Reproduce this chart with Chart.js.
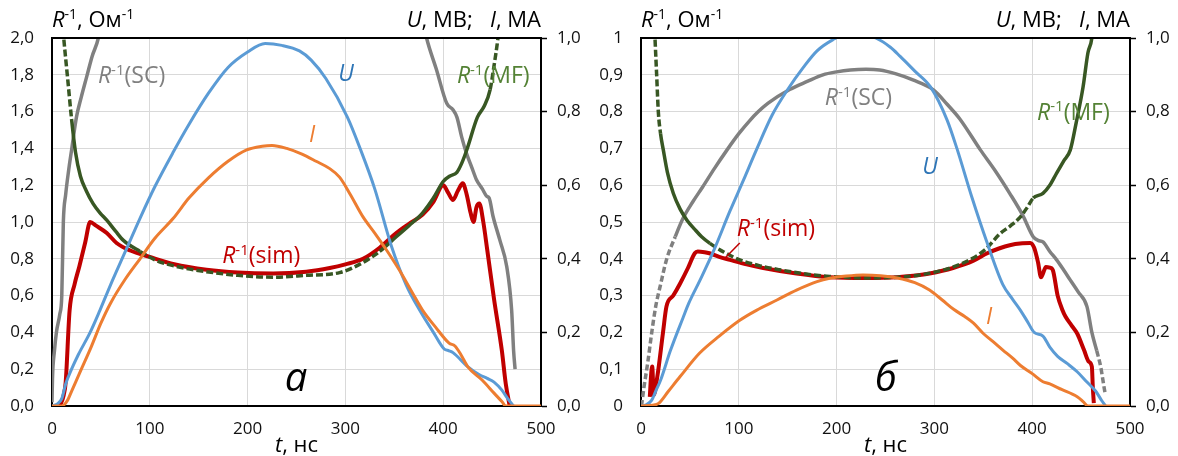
<!DOCTYPE html>
<html>
<head>
<meta charset="utf-8">
<script src="https://cdn.jsdelivr.net/npm/chart.js@4.4.0/dist/chart.umd.min.js"></script>
<style>
  html, body { margin: 0; padding: 0; background: #fff; }
  .row { display: flex; width: 1178px; height: 456px; }
  canvas { display: block; }
</style>
</head>
<body>
<div class="row">
  <canvas id="chartA" width="589" height="456"></canvas>
  <canvas id="chartB" width="589" height="456"></canvas>
</div>
<script>
// ---------- panel а : t (ns) and values ----------
// U, I on right axis (MV, MA); R^-1 series on left axis (Ohm^-1)
const aTimeU = [0, 5, 10, 14, 20, 27, 39, 49, 60, 75, 90, 105, 124, 140, 160, 180, 200, 218, 235, 253, 265, 280, 302, 315, 330, 347, 362, 376, 390, 401, 406, 410, 425, 437, 445, 452, 460, 466, 472];
const aValU = [0, 0.005, 0.02, 0.06, 0.1, 0.14, 0.2, 0.26, 0.33, 0.42, 0.51, 0.595, 0.69, 0.765, 0.85, 0.92, 0.962, 0.985, 0.98, 0.965, 0.94, 0.89, 0.785, 0.7, 0.59, 0.435, 0.33, 0.26, 0.2, 0.155, 0.15, 0.145, 0.107, 0.085, 0.075, 0.065, 0.043, 0.02, 0];

const aTimeI = [0, 10, 16, 20, 30, 40, 50, 60, 75, 90, 105, 124, 140, 160, 180, 199, 215, 225, 240, 255, 270, 284, 294, 305, 318, 330, 342, 355, 368, 379, 392, 406, 412, 418, 425, 440, 452, 460, 464, 500];
const aValI = [0, 0, 0.016, 0.04, 0.1, 0.16, 0.225, 0.28, 0.345, 0.4, 0.455, 0.51, 0.565, 0.62, 0.665, 0.696, 0.706, 0.708, 0.70, 0.685, 0.665, 0.645, 0.622, 0.575, 0.514, 0.47, 0.424, 0.37, 0.31, 0.26, 0.215, 0.171, 0.163, 0.14, 0.107, 0.07, 0.035, 0.012, 0, 0];

const aTimeSim = [8, 12, 14, 18, 23, 28, 34, 39, 45, 56, 66, 80, 100, 125, 158, 190, 226, 260, 284, 300, 318, 335, 352, 365, 379, 390, 400, 405, 410, 415, 420, 424, 428, 431, 434, 437, 441, 445, 452, 460, 464, 468];
const aValSim = [0, 0.06, 0.13, 0.52, 0.66, 0.76, 0.89, 1.0, 0.98, 0.94, 0.886, 0.845, 0.81, 0.77, 0.74, 0.725, 0.72, 0.73, 0.75, 0.77, 0.80, 0.86, 0.94, 0.99, 1.04, 1.11, 1.2, 1.16, 1.12, 1.17, 1.21, 1.15, 1.05, 1.0, 1.08, 1.1, 1.0, 0.85, 0.58, 0.30, 0.12, 0];

const aTimeMF = [10.5, 12, 16, 20, 24, 29, 35, 42, 49, 56, 65, 73, 90, 107, 130, 158, 190, 226, 260, 294, 318, 335, 352, 365, 379, 390, 400, 407, 414, 419, 424, 435, 442, 448, 452, 456, 458];
const aValMF = [2.1, 2.0, 1.78, 1.56, 1.38, 1.25, 1.17, 1.1, 1.05, 1.01, 0.95, 0.9, 0.84, 0.79, 0.755, 0.73, 0.71, 0.70, 0.71, 0.725, 0.78, 0.84, 0.92, 0.98, 1.05, 1.13, 1.22, 1.25, 1.27, 1.32, 1.39, 1.57, 1.63, 1.72, 1.85, 2.0, 2.1];

const aTimeSC1 = [0, 0.5, 2.5, 4.5, 8, 10, 11.6, 14, 17, 20, 25, 30, 35.5, 41, 47.4, 49];
const aValSC1 = [0.02, 0.15, 0.3, 0.4, 0.5, 0.6, 1.0, 1.15, 1.28, 1.39, 1.57, 1.68, 1.79, 1.9, 2.0, 2.05];
const aTimeSC2 = [381, 383, 393, 403.6, 410, 414, 419, 424, 429, 434, 440, 444.5, 447, 451, 458, 465, 470, 472, 473.5];
const aValSC2 = [2.05, 2.0, 1.83, 1.645, 1.61, 1.57, 1.46, 1.37, 1.3, 1.23, 1.18, 1.14, 1.13, 1.03, 0.9, 0.757, 0.52, 0.30, 0.2];

// ---------- panel б ----------
const bTimeU = [0, 5, 11, 15, 20, 30, 43, 49, 60, 74, 91, 105, 118, 134, 150, 166, 180, 196, 210, 225, 240, 255, 265, 280, 296, 313, 323, 338, 354, 370, 380, 388, 395, 402, 411, 418, 426, 436, 446, 456, 465, 471, 475];
const bValU = [0, 0.003, 0.016, 0.04, 0.07, 0.15, 0.24, 0.28, 0.34, 0.42, 0.53, 0.615, 0.696, 0.79, 0.86, 0.92, 0.965, 0.995, 1.01, 1.01, 1.0, 0.975, 0.95, 0.91, 0.867, 0.777, 0.70, 0.57, 0.443, 0.33, 0.29, 0.26, 0.23, 0.2, 0.19, 0.16, 0.135, 0.115, 0.093, 0.065, 0.04, 0.015, 0];

const bTimeI = [0, 12, 18, 28, 40, 60, 80, 101, 118, 139, 159, 180, 193, 210, 227, 245, 262, 280, 295, 308, 320, 331, 340, 350, 360, 370, 380, 388, 400, 411, 418, 430, 446, 452, 457, 500];
const bValI = [0, 0.002, 0.007, 0.04, 0.08, 0.144, 0.19, 0.233, 0.26, 0.288, 0.315, 0.338, 0.347, 0.353, 0.356, 0.354, 0.348, 0.335, 0.315, 0.288, 0.262, 0.243, 0.225, 0.197, 0.175, 0.152, 0.13, 0.11, 0.088, 0.066, 0.06, 0.045, 0.025, 0.012, 0, 0];

const bTimeSim = [9, 10.5, 11.5, 13, 16.7, 22.5, 26, 33, 40, 48, 55, 58, 65, 70, 80, 91, 108, 125, 159, 193, 230, 262, 285, 295, 319, 340, 354, 366, 377, 390, 398, 402, 406, 409, 411, 414, 418, 421, 426, 431, 434, 440, 446, 453, 458, 461, 462, 463];
const bValSim = [0.025, 0.09, 0.107, 0.03, 0.08, 0.2, 0.27, 0.30, 0.333, 0.375, 0.415, 0.42, 0.418, 0.415, 0.405, 0.397, 0.385, 0.375, 0.36, 0.35, 0.348, 0.35, 0.356, 0.36, 0.375, 0.395, 0.415, 0.428, 0.437, 0.442, 0.443, 0.43, 0.39, 0.35, 0.36, 0.378, 0.376, 0.37, 0.3, 0.26, 0.243, 0.22, 0.197, 0.152, 0.12, 0.107, 0.05, 0.008];

const bTimeMF = [13.5, 14.3, 16, 17.7, 20, 22.8, 27, 33, 40, 47, 55, 62, 70.5, 85, 101, 120, 142, 165, 193, 230, 262, 285, 310, 336, 352, 367, 378, 388, 395, 401, 411, 418, 425, 432, 439, 445, 452, 457, 461, 462];
const bValMF = [1.05, 1.0, 0.9, 0.8, 0.74, 0.696, 0.635, 0.578, 0.535, 0.505, 0.48, 0.46, 0.442, 0.418, 0.397, 0.382, 0.37, 0.36, 0.352, 0.348, 0.35, 0.356, 0.37, 0.397, 0.425, 0.468, 0.49, 0.514, 0.54, 0.565, 0.578, 0.6, 0.633, 0.665, 0.696, 0.77, 0.867, 0.96, 1.0, 1.03];

const bTimeSC = [0.5, 3, 7, 11, 15, 20, 26, 35, 43, 53, 63, 75, 88, 100, 111, 120, 130, 152, 170, 186, 200, 214, 230, 244, 260, 278, 299, 313, 326, 347, 362, 377, 390, 401, 406, 411, 418, 425, 432, 439, 447, 456, 461, 466, 470, 474, 475];
const bValSC = [0, 0.05, 0.12, 0.2, 0.27, 0.33, 0.397, 0.46, 0.51, 0.555, 0.595, 0.645, 0.696, 0.74, 0.775, 0.80, 0.823, 0.86, 0.882, 0.90, 0.908, 0.913, 0.915, 0.913, 0.903, 0.886, 0.859, 0.82, 0.78, 0.696, 0.64, 0.578, 0.52, 0.46, 0.45, 0.446, 0.42, 0.397, 0.37, 0.342, 0.31, 0.27, 0.2, 0.15, 0.107, 0.043, 0.03];

// x ticks
const timeMin = 0, timeMax = 500, timeStep = 100;

// ---------- styles ----------
const FONT = '"Open Sans", sans-serif';
const colU = '#5B9BD5', colI = '#ED7D31', colSim = '#C00000', colMF = '#385723', colSC = '#808080';
const dashMF = [7, 3], dashSC = [6, 3];
// where the dashed pieces of a curve are (t ranges)
const aDashMF = [[0, 20], [92, 338], [447, 470]];
const bDashMF = [[0, 19], [68, 398]];
const bDashSC = [[0, 33], [466, 480]];

function pts(ts, vs) {
  return ts.map((t, i) => ({ x: t, y: vs[i] }));
}

function dashBy(ranges, pattern) {
  return ctx => {
    const t = (ctx.p0.parsed.x + ctx.p1.parsed.x) / 2;
    return ranges.some(r => t >= r[0] && t <= r[1]) ? pattern : undefined;
  };
}

function series(data, color, width, axis, dash) {
  const ds = {
    data: data,
    borderColor: color,
    borderWidth: width,
    yAxisID: axis,
    pointRadius: 0,
    fill: false,
    clip: 0,
    cubicInterpolationMode: 'monotone',
    borderJoinStyle: 'round'
  };
  if (dash) ds.segment = { borderDash: dashBy(dash[0], dash[1]) };
  return ds;
}

// rich text: [{s, it, sup}]
function partFont(p, size) {
  const s = p.sup ? Math.round(size * 0.64) : size;
  return (p.it ? 'italic ' : '') + s + 'px ' + FONT;
}
function drawRich(ctx, parts, x, y, size, color, align) {
  let w = 0;
  parts.forEach(p => { ctx.font = partFont(p, size); w += ctx.measureText(p.s).width; });
  let cx = align === 'center' ? x - w / 2 : align === 'right' ? x - w : x;
  ctx.fillStyle = color;
  ctx.textAlign = 'left';
  ctx.textBaseline = 'alphabetic';
  parts.forEach(p => {
    ctx.font = partFont(p, size);
    ctx.fillText(p.s, cx, p.sup ? y - size * 0.36 : y);
    cx += ctx.measureText(p.s).width;
  });
}
const rInv = rest => [{ s: 'R', it: true }, { s: '-1', sup: true }, { s: rest }];

const richLabels = {
  id: 'richLabels',
  afterDatasetsDraw(chart, args, opts) {
    const { ctx, chartArea: a, scales } = chart;
    ctx.save();
    // top edge of the plot frame
    ctx.strokeStyle = '#000';
    ctx.lineWidth = 2;
    ctx.beginPath();
    ctx.moveTo(a.left - 1, a.top);
    ctx.lineTo(a.right + 1, a.top);
    ctx.stroke();

    (opts.items || []).forEach(it => {
      if (it.line) {
        ctx.strokeStyle = it.color;
        ctx.lineWidth = 1.5;
        ctx.beginPath();
        ctx.moveTo(scales.x.getPixelForValue(it.line[0]), scales.yL.getPixelForValue(it.line[1]));
        ctx.lineTo(scales.x.getPixelForValue(it.line[2]), scales.yL.getPixelForValue(it.line[3]));
        ctx.stroke();
        return;
      }
      const px = scales.x.getPixelForValue(it.t);
      const py = scales.yL.getPixelForValue(it.v) + it.size * 0.35;
      drawRich(ctx, it.parts, px, py, it.size, it.color, it.align);
    });

    // axis titles
    drawRich(ctx, [{ s: 'R', it: true }, { s: '-1', sup: true }, { s: ', Ом' }, { s: '-1', sup: true }], a.left, 27, 22, '#000', 'left');
    drawRich(ctx, [{ s: 'U', it: true }, { s: ', МВ;   ' }, { s: 'I', it: true }, { s: ', МА' }], a.right, 27, 22, '#000', 'right');
    drawRich(ctx, [{ s: 't', it: true }, { s: ', нс' }], (a.left + a.right) / 2, 452, 22, '#000', 'center');
    ctx.restore();
  }
};

const commaFmt = v => v.toFixed(1).replace('.', ',');
const tickFont = { family: FONT, size: 17 };
const tickColor = '#111';

function makeChart(id, datasets, leftMax, leftStep, leftFmt, items) {
  return new Chart(document.getElementById(id), {
    type: 'line',
    data: { datasets: datasets },
    options: {
      responsive: false,
      animation: false,
      layout: { padding: { top: 38, left: 0, right: 0, bottom: 0 } },
      plugins: {
        legend: { display: false },
        tooltip: { enabled: false },
        richLabels: { items: items }
      },
      scales: {
        x: {
          type: 'linear',
          min: timeMin, max: timeMax,
          ticks: { stepSize: timeStep, padding: 13, font: tickFont, color: tickColor },
          grid: { color: '#d9d9d9', lineWidth: 1, drawTicks: false },
          border: { display: true, color: '#000', width: 2 },
          afterFit: s => { s.height = 50; }
        },
        yL: {
          position: 'left',
          min: 0, max: leftMax,
          ticks: { stepSize: leftStep, padding: 18, font: tickFont, color: tickColor, callback: leftFmt },
          grid: { color: '#d9d9d9', lineWidth: 1, drawTicks: false },
          border: { display: true, color: '#000', width: 2 },
          afterFit: s => { s.width = 52; }
        },
        yR: {
          position: 'right',
          min: 0, max: 1,
          ticks: { stepSize: 0.2, padding: 10, font: tickFont, color: tickColor, callback: commaFmt },
          grid: { drawOnChartArea: false, drawTicks: true, tickLength: 6, tickColor: '#000', tickWidth: 1.5 },
          border: { display: true, color: '#000', width: 2 },
          afterFit: s => { s.width = 48; }
        }
      }
    },
    plugins: [richLabels]
  });
}

// panel а  (first dataset is drawn on top)
const aSC = pts(aTimeSC1, aValSC1).concat([{ x: 200, y: null }], pts(aTimeSC2, aValSC2));
makeChart('chartA', [
  series(pts(aTimeI, aValI), colI, 3, 'yR'),
  series(pts(aTimeU, aValU), colU, 3, 'yR'),
  series(pts(aTimeMF, aValMF), colMF, 3.5, 'yL', [aDashMF, dashMF]),
  series(pts(aTimeSim, aValSim), colSim, 4, 'yL'),
  series(aSC, colSC, 3.5, 'yL')
], 2, 0.2, commaFmt, [
  { parts: rInv('(SC)'), t: 47, v: 1.80, size: 23, color: '#808080', align: 'left' },
  { parts: [{ s: 'U', it: true }], t: 300.6, v: 1.81, size: 23, color: '#2E75B6', align: 'center' },
  { parts: rInv('(MF)'), t: 414, v: 1.80, size: 23, color: '#548235', align: 'left' },
  { parts: [{ s: 'I', it: true }], t: 266, v: 1.48, size: 23, color: '#ED7D31', align: 'center' },
  { parts: rInv('(sim)'), t: 174, v: 0.82, size: 23, color: '#C00000', align: 'left' },
  { parts: [{ s: 'а', it: true }], t: 249.5, v: 0.158, size: 40, color: '#000', align: 'center' }
]);

// panel б
const leftFmtB = v => (v === 0 ? '0' : Math.abs(v - 1) < 1e-9 ? '1' : commaFmt(v));
makeChart('chartB', [
  series(pts(bTimeI, bValI), colI, 3, 'yR'),
  series(pts(bTimeU, bValU), colU, 3, 'yR'),
  series(pts(bTimeMF, bValMF), colMF, 3.5, 'yL', [bDashMF, dashMF]),
  series(pts(bTimeSim, bValSim), colSim, 4, 'yL'),
  series(pts(bTimeSC, bValSC), colSC, 3.5, 'yL', [bDashSC, dashSC])
], 1, 0.1, leftFmtB, [
  { parts: rInv('(SC)'), t: 188, v: 0.84, size: 23, color: '#808080', align: 'left' },
  { parts: [{ s: 'U', it: true }], t: 295.5, v: 0.652, size: 23, color: '#2E75B6', align: 'center' },
  { parts: rInv('(MF)'), t: 405, v: 0.80, size: 23, color: '#548235', align: 'left' },
  { parts: [{ s: 'I', it: true }], t: 356, v: 0.245, size: 23, color: '#ED7D31', align: 'center' },
  { parts: rInv('(sim)'), t: 98, v: 0.484, size: 23, color: '#C00000', align: 'left' },
  { line: [101, 0.443, 86, 0.402], color: '#C00000' },
  { parts: [{ s: 'б', it: true }], t: 250.5, v: 0.079, size: 40, color: '#000', align: 'center' }
]);
</script>
</body>
</html>
